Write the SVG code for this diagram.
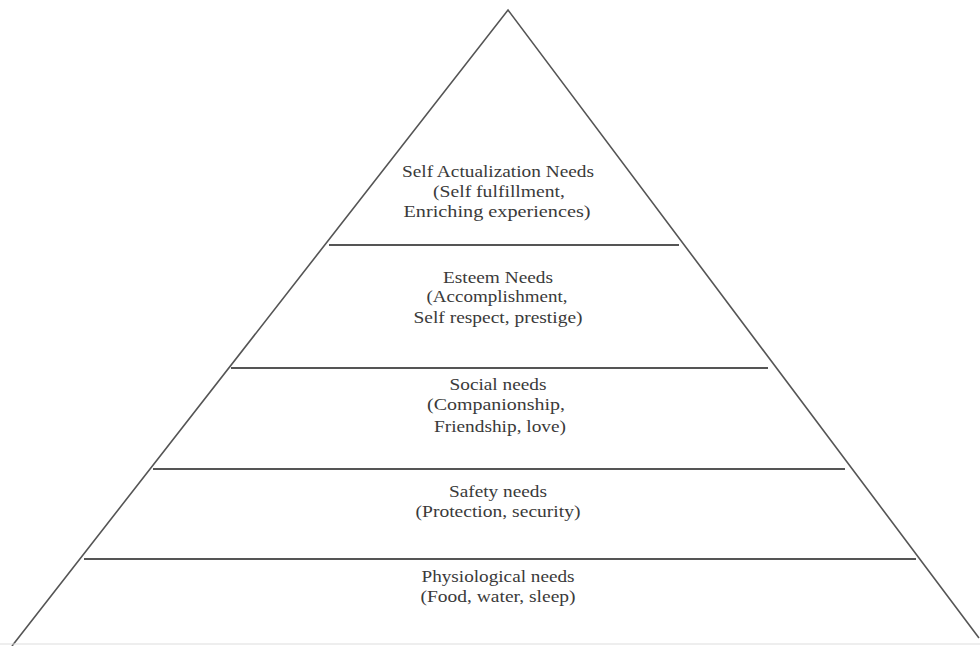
<svg xmlns="http://www.w3.org/2000/svg" width="980" height="646" viewBox="0 0 980 646">
<style>
.edge{stroke:#555;stroke-width:1.6;fill:none}
.div{stroke:#555;stroke-width:2;fill:none}
text{font-family:"Liberation Serif","Times New Roman",serif;font-size:17px;fill:#3a3a3a;text-anchor:middle}
</style>
<rect width="980" height="646" fill="#fff"/>
<g id="connectors">
<polyline class="edge" points="12,646 508,10 979,638"/>
<line x1="0" y1="644" x2="980" y2="644" stroke="#ddd" stroke-width="1"/>
<line class="div" x1="329" y1="245" x2="679" y2="245"/>
<line class="div" x1="231" y1="368" x2="768" y2="368"/>
<line class="div" x1="153" y1="469" x2="845" y2="469"/>
<line class="div" x1="84" y1="559" x2="916" y2="559"/>
</g>
<g id="self-actualization">
<text x="498" y="177" textLength="192" lengthAdjust="spacingAndGlyphs">Self Actualization Needs</text>
<text x="499" y="197" textLength="132" lengthAdjust="spacingAndGlyphs">(Self fulfillment,</text>
<text x="497" y="217" textLength="187" lengthAdjust="spacingAndGlyphs">Enriching experiences)</text>
</g>
<g id="esteem">
<text x="498" y="283" textLength="110" lengthAdjust="spacingAndGlyphs">Esteem Needs</text>
<text x="497" y="302" textLength="141" lengthAdjust="spacingAndGlyphs">(Accomplishment,</text>
<text x="498" y="323" textLength="169" lengthAdjust="spacingAndGlyphs">Self respect, prestige)</text>
</g>
<g id="social">
<text x="498" y="390" textLength="97" lengthAdjust="spacingAndGlyphs">Social needs</text>
<text x="496" y="410" textLength="138" lengthAdjust="spacingAndGlyphs">(Companionship,</text>
<text x="500" y="432" textLength="132" lengthAdjust="spacingAndGlyphs">Friendship, love)</text>
</g>
<g id="safety">
<text x="498" y="497" textLength="98" lengthAdjust="spacingAndGlyphs">Safety needs</text>
<text x="498" y="517" textLength="165" lengthAdjust="spacingAndGlyphs">(Protection, security)</text>
</g>
<g id="physiological">
<text x="498" y="582" textLength="153" lengthAdjust="spacingAndGlyphs">Physiological needs</text>
<text x="498" y="602" textLength="155" lengthAdjust="spacingAndGlyphs">(Food, water, sleep)</text>
</g>
</svg>
